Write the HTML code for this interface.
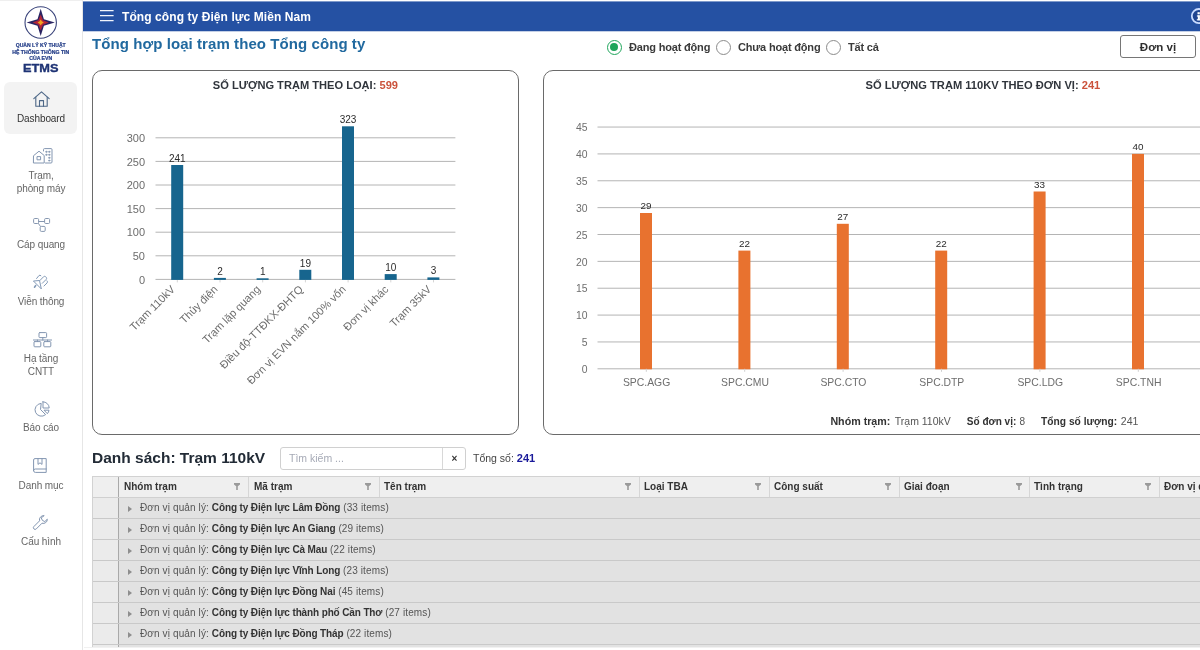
<!DOCTYPE html>
<html lang="vi">
<head>
<meta charset="utf-8">
<title>ETMS</title>
<style>
*{box-sizing:border-box;margin:0;padding:0}
html,body{width:1200px;height:650px;overflow:hidden;background:#fff;font-family:"Liberation Sans",sans-serif;color:#333}
.abs{position:absolute}
#side{position:absolute;left:0;top:0;width:83px;height:650px;background:#fff;border-right:1px solid #e6e6e6}
#hdr{position:absolute;left:83px;top:1px;width:1117px;height:30px;background:#2551a3;border-top:1px solid #7f9acb;box-shadow:0 1px 0 #c3cfe6}
#hdr .t{position:absolute;left:39px;top:8.3px;letter-spacing:0.08px;font-size:12px;font-weight:bold;color:#fff;white-space:nowrap;line-height:14px}
.nav{position:absolute;left:0;width:82px;text-align:center;letter-spacing:-0.1px;font-size:10px;line-height:13px;color:#666;white-space:nowrap}
.nav.act{color:#333}
.ico{position:absolute}
.ico svg{display:block;overflow:visible}
#ptitle{position:absolute;left:92px;top:35px;letter-spacing:0.075px;font-size:15px;font-weight:bold;color:#21699f;white-space:nowrap;line-height:18px}
.panel{position:absolute;border:1px solid #6a6a6a;border-radius:10px;background:#fff}
.rad{position:absolute;width:15px;height:15px;border-radius:50%;border:1.8px solid #8a8a8a;background:#fff}
.rad.on{border-color:#1fa55b}
.rad.on:after{content:"";position:absolute;left:2px;top:2px;width:7.9px;height:7.9px;border-radius:50%;background:#1fa55b}
.rlab{position:absolute;top:41px;letter-spacing:-0.18px;font-size:11px;font-weight:bold;color:#3a3a3a;white-space:nowrap;line-height:13px}
#btn{position:absolute;left:1120px;top:35px;width:76px;height:23px;border:1px solid #767676;border-radius:3px;background:#fff;text-align:center;font-size:11.5px;font-weight:bold;line-height:22px;color:#2e2e2e}

#ltitle{position:absolute;left:92px;top:449px;font-size:15.5px;font-weight:bold;color:#222b36;white-space:nowrap;line-height:18px}
#srch{position:absolute;left:280px;top:447px;width:186px;height:23px;border:1px solid #d0d0d0;border-radius:3px;background:#fff}
#srch .ph{position:absolute;left:8px;top:4px;font-size:10.5px;color:#a6aab6;line-height:13px;white-space:nowrap}
#srch .x{position:absolute;left:161px;top:0;width:24px;font-weight:normal;height:21px;border-left:1px solid #d8d8d8;text-align:center;font-size:10px;line-height:21px;color:#333;font-weight:bold}
#tot{position:absolute;left:473px;top:452px;font-size:10.5px;color:#444;white-space:nowrap;line-height:13px}
#tot b{color:#1a1a9a;font-size:11px}
#grid{position:absolute;left:92px;top:476px;width:1120px;height:180px;border-left:1px solid #d2d2d2;border-top:1px solid #d2d2d2;background:#e2e2e2}
#gh{position:absolute;left:0;top:0;width:1120px;height:21px;background:#efefef;border-bottom:1px solid #d0d0d0}
.th{position:absolute;top:0;height:20px;border-left:1px solid #d6d6d6;font-size:10px;font-weight:bold;color:#333;line-height:20px;padding-left:5px;white-space:nowrap}
.th svg{position:absolute;right:8px;top:6px}
.gr{position:absolute;left:0;width:1120px;height:21px;border-bottom:1px solid #c9c9c9;font-size:10px;line-height:20px;color:#555;white-space:nowrap}
.gr .ind{position:absolute;left:0;top:0;width:26px;height:100%;background:#ebebeb;border-right:1px solid #a9a9a9}
.gr .ar{position:absolute;left:35px;top:8px;width:0;height:0;border-left:4.5px solid #8e8e8e;border-top:3px solid transparent;border-bottom:3px solid transparent}
.gr .tx{position:absolute;left:47px;top:0;letter-spacing:0.12px}
.gr b{color:#333;letter-spacing:-0.13px}
svg text{font-family:"Liberation Sans",sans-serif}
</style>
</head>
<body><div id="wrap" style="position:absolute;left:0;top:0;width:1200px;height:650px;will-change:transform">
<!-- SIDEBAR -->
<div class="abs" style="left:0;top:0;width:82px;height:1px;background:#efefef;z-index:5"></div>
<div id="side">
  <!-- logo -->
  <svg class="abs" style="left:0;top:0" width="82" height="80" viewBox="0 0 82 80">
    <circle cx="40.7" cy="22.5" r="15.7" fill="#fff" stroke="#39437a" stroke-width="1.1"/>
    <path d="M40.7 8.8 L43.9 19.3 L54.8 22.5 L43.9 25.7 L40.7 36 L37.5 25.7 L26.6 22.5 L37.5 19.3Z" fill="#2a2462"/>
    <path d="M40.7 14.5 L43 20.2 L48.7 22.5 L43 24.8 L40.7 30.5 L38.4 24.8 L32.7 22.5 L38.4 20.2Z" fill="#b3263a"/>
    <path d="M40.7 19.4 L41.9 21.3 L43.8 22.5 L41.9 23.7 L40.7 25.6 L39.5 23.7 L37.6 22.5 L39.5 21.3Z" fill="#f3a21f"/>
    <g font-weight="bold" fill="#27408a" stroke="#27408a" stroke-width="0.22" text-anchor="middle">
      <text x="40.7" y="46.7" font-size="5.3" textLength="50" lengthAdjust="spacingAndGlyphs">QUẢN LÝ KỸ THUẬT</text>
      <text x="40.7" y="53.5" font-size="5.3" textLength="57" lengthAdjust="spacingAndGlyphs">HỆ THỐNG THÔNG TIN</text>
      <text x="40.7" y="59.7" font-size="5.3" textLength="23" lengthAdjust="spacingAndGlyphs">CỦA EVN</text>
      <text x="40.7" y="72" font-size="11.5" textLength="35.5" lengthAdjust="spacingAndGlyphs" fill="#1f3475" stroke="#1f3475" stroke-width="0.35">ETMS</text>
    </g>
  </svg>
  <div class="abs" style="left:4px;top:82px;width:73px;height:52px;border-radius:6px;background:#f3f3f3"></div>
  <!-- icons -->
  <div class="ico" id="i1" style="left:33px;top:91px"><svg width="17" height="16" viewBox="0 0 17 16" fill="none" stroke="#4d6787" stroke-width="1.1" stroke-linejoin="round" stroke-linecap="round"><path d="M0.8 7.6 L8.5 0.8 L16.2 7.6"/><path d="M2.8 6.2 V15.2 H14.2 V6.2"/><path d="M6.5 15.2 V9.6 H10.5 V15.2"/></svg></div>
  <div class="nav act" style="top:112px">Dashboard</div>
  <div class="ico" id="i2" style="left:33px;top:148px"><svg width="20" height="16" viewBox="0 0 20 16" fill="none" stroke="#8396b1" stroke-width="1" stroke-linejoin="round" stroke-linecap="round"><path d="M10.5 3 V1.6 Q10.5 0.6 11.5 0.6 H18 Q19 0.6 19 1.6 V14 Q19 15 18 15 H12.5"/><path d="M0.8 7.5 L6 3.2 L11.2 7.5 V15 H0.8Z"/><rect x="4.4" y="8.6" width="3.2" height="3.2"/><circle cx="13.3" cy="3.8" r="0.6"/><circle cx="16.2" cy="3.8" r="0.6"/><circle cx="13.3" cy="6.8" r="0.6"/><circle cx="16.2" cy="6.8" r="0.6"/><circle cx="16.2" cy="9.8" r="0.6"/><circle cx="16.2" cy="12.6" r="0.6"/></svg></div>
  <div class="nav" style="top:169px">Trạm,<br>phòng máy</div>
  <div class="ico" id="i3" style="left:33px;top:217px"><svg width="18" height="16" viewBox="0 0 18 16" fill="none" stroke="#8697b0" stroke-width="1" stroke-linejoin="round"><rect x="0.6" y="1.5" width="5" height="5" rx="1.1"/><rect x="11.6" y="1.5" width="5" height="5" rx="1.1"/><rect x="7.2" y="9.4" width="5" height="5" rx="1.1"/><path d="M5.6 4.5 H11.6 M5.2 6.2 L7.6 9.6"/></svg></div>
  <div class="nav" style="top:238px">Cáp quang</div>
  <div class="ico" id="i4" style="left:33px;top:274px"><svg width="16" height="16" viewBox="0 0 16 16" fill="none" stroke="#8299b6" stroke-width="1" stroke-linejoin="round" stroke-linecap="round"><path d="M0.7 7.3 L8.3 14.9 L6.6 6.9 Z"/><path d="M2.7 11.6 L1.5 13.2" stroke-width="1.6"/><path d="M3.6 4.5 L6 1.5 Q6.9 0.7 7.9 1.7"/><path d="M6.9 6.5 L10.6 2.7 Q11.6 1.9 12.6 2.7 L13.3 3.4 Q14 4.4 13.2 5.4 L9.3 9.3"/><path d="M11 12 L14.2 8.8 Q15 7.8 14 6.8"/></svg></div>
  <div class="nav" style="top:295px">Viễn thông</div>
  <div class="ico" id="i5" style="left:33px;top:332px"><svg width="19" height="16" viewBox="0 0 19 16" fill="none" stroke="#8396b1" stroke-width="1" stroke-linejoin="round" stroke-linecap="round"><rect x="6" y="0.6" width="7.6" height="5" rx="0.8"/><path d="M0.4 8 H18.6 M9.8 5.6 V8 M4.4 8 V9.6 M14.6 8 V9.6"/><rect x="1" y="9.6" width="6.8" height="5.2" rx="0.8"/><rect x="10.8" y="9.6" width="7" height="5.2" rx="0.8"/></svg></div>
  <div class="nav" style="top:352px">Hạ tầng<br>CNTT</div>
  <div class="ico" id="i6" style="left:34px;top:401px"><svg width="16" height="16" viewBox="0 0 16 16" fill="none" stroke="#8396b1" stroke-width="1" stroke-linejoin="round" stroke-linecap="round"><path d="M6.8 2.4 A6.4 6.4 0 1 0 11.6 13.6 L6.8 8.8Z"/><path d="M9 0.8 V7 H15.2 A6.2 6.2 0 0 0 9 0.8Z"/><path d="M10.4 9.2 H15 A6 6 0 0 1 13.6 12.4Z"/></svg></div>
  <div class="nav" style="top:421px">Báo cáo</div>
  <div class="ico" id="i7" style="left:33px;top:458px"><svg width="14" height="15" viewBox="0 0 14 15" fill="none" stroke="#8396b1" stroke-width="1" stroke-linejoin="round" stroke-linecap="round"><path d="M0.6 12.6 V2 Q0.6 0.6 2 0.6 H13.2 V14.4 H2.4 Q0.6 14.4 0.6 12.6 Q0.6 11 2.4 11 H13.2"/><path d="M5 0.6 V6.4 L7 4.8 L9 6.4 V0.6"/></svg></div>
  <div class="nav" style="top:479px">Danh mục</div>
  <div class="ico" id="i8" style="left:33px;top:515px"><svg width="15" height="15" viewBox="0 0 15 15" fill="none" stroke="#8396b1" stroke-width="1" stroke-linejoin="round" stroke-linecap="round"><path d="M10.8 0.6 A4 4 0 0 0 6.6 5.8 L0.9 11.5 A1.6 1.6 0 0 0 3.3 13.9 L9 8.2 A4 4 0 0 0 14.3 4.2 L11.8 6.6 L9.4 5.4 L8.4 3.2Z"/></svg></div>
  <div class="nav" style="top:535px">Cấu hình</div>
</div>
<!-- HEADER -->
<div id="hdr">
  <svg class="abs" style="left:16px;top:7px" width="16" height="16" viewBox="0 0 16 16"><path d="M1 1.7h13.6M1 6.7h13.6M1 11.7h13.6" stroke="#f2f5fc" stroke-width="1.2" fill="none"/></svg>
  <svg class="abs" style="left:1105px;top:4px" width="14" height="20" viewBox="0 0 14 20"><circle cx="10.9" cy="10.1" r="7.1" fill="#1f4491" stroke="#c9dbff" stroke-width="1.8"/><rect x="9.5" y="6.2" width="2.3" height="2.1" fill="#fff"/><rect x="8.9" y="9.4" width="2.9" height="1.2" fill="#fff"/><rect x="9.8" y="9.4" width="2.1" height="4.8" fill="#fff"/><rect x="8.8" y="13.2" width="4.4" height="1.2" fill="#fff"/></svg>
  <div class="t">Tổng công ty Điện lực Miền Nam</div>
</div>
<div id="ptitle">Tổng hợp loại trạm theo Tổng công ty</div>
<!-- RADIOS -->
<div class="rad on" style="left:607px;top:40px"></div><div class="rlab" style="left:629px">Đang hoạt động</div>
<div class="rad" style="left:716px;top:40px"></div><div class="rlab" style="left:738px">Chưa hoạt động</div>
<div class="rad" style="left:826px;top:40px"></div><div class="rlab" style="left:848px">Tất cả</div>
<div id="btn">Đơn vị</div>
<!-- PANELS -->
<div class="panel" id="p1" style="left:92px;top:70px;width:427px;height:365px"></div>
<div class="panel" id="p2" style="left:543px;top:70px;width:700px;height:365px"></div>
<div id="ltitle">Danh sách: Trạm 110kV</div>
<div id="srch"><div class="ph">Tìm kiếm ...</div><div class="x">×</div></div>
<div id="tot">Tổng số: <b>241</b></div>
<div id="grid"><div id="gh">
<div class="th" style="border-left-color:#a9a9a9;left:25px;width:130px;padding-left:5px">Nhóm trạm<svg width="6" height="7" viewBox="0 0 6 7"><path d="M0 0H6V1.4L3.8 3.2V7H2.2V3.2L0 1.4Z" fill="#9a9a9a"/></svg></div>
<div class="th" style="left:155px;width:131px;padding-left:5px">Mã trạm<svg width="6" height="7" viewBox="0 0 6 7"><path d="M0 0H6V1.4L3.8 3.2V7H2.2V3.2L0 1.4Z" fill="#9a9a9a"/></svg></div>
<div class="th" style="left:286px;width:260px;padding-left:4px">Tên trạm<svg width="6" height="7" viewBox="0 0 6 7"><path d="M0 0H6V1.4L3.8 3.2V7H2.2V3.2L0 1.4Z" fill="#9a9a9a"/></svg></div>
<div class="th" style="left:546px;width:130px;padding-left:4px">Loại TBA<svg width="6" height="7" viewBox="0 0 6 7"><path d="M0 0H6V1.4L3.8 3.2V7H2.2V3.2L0 1.4Z" fill="#9a9a9a"/></svg></div>
<div class="th" style="left:676px;width:130px;padding-left:4px">Công suất<svg width="6" height="7" viewBox="0 0 6 7"><path d="M0 0H6V1.4L3.8 3.2V7H2.2V3.2L0 1.4Z" fill="#9a9a9a"/></svg></div>
<div class="th" style="left:806px;width:131px;padding-left:4px">Giai đoạn<svg width="6" height="7" viewBox="0 0 6 7"><path d="M0 0H6V1.4L3.8 3.2V7H2.2V3.2L0 1.4Z" fill="#9a9a9a"/></svg></div>
<div class="th" style="left:936px;width:130px;padding-left:4px">Tình trạng<svg width="6" height="7" viewBox="0 0 6 7"><path d="M0 0H6V1.4L3.8 3.2V7H2.2V3.2L0 1.4Z" fill="#9a9a9a"/></svg></div>
<div class="th" style="left:1066px;width:130px;padding-left:4px">Đơn vị quản lý<svg width="6" height="7" viewBox="0 0 6 7"><path d="M0 0H6V1.4L3.8 3.2V7H2.2V3.2L0 1.4Z" fill="#9a9a9a"/></svg></div>
</div>
<div class="gr" style="top:21px"><div class="ind"></div><div class="ar"></div><div class="tx">Đơn vị quản lý: <b>Công ty Điện lực Lâm Đồng</b> (33 items)</div></div>
<div class="gr" style="top:42px"><div class="ind"></div><div class="ar"></div><div class="tx">Đơn vị quản lý: <b>Công ty Điện lực An Giang</b> (29 items)</div></div>
<div class="gr" style="top:63px"><div class="ind"></div><div class="ar"></div><div class="tx">Đơn vị quản lý: <b>Công ty Điện lực Cà Mau</b> (22 items)</div></div>
<div class="gr" style="top:84px"><div class="ind"></div><div class="ar"></div><div class="tx">Đơn vị quản lý: <b>Công ty Điện lực Vĩnh Long</b> (23 items)</div></div>
<div class="gr" style="top:105px"><div class="ind"></div><div class="ar"></div><div class="tx">Đơn vị quản lý: <b>Công ty Điện lực Đồng Nai</b> (45 items)</div></div>
<div class="gr" style="top:126px"><div class="ind"></div><div class="ar"></div><div class="tx">Đơn vị quản lý: <b>Công ty Điện lực thành phố Cần Thơ</b> (27 items)</div></div>
<div class="gr" style="top:147px"><div class="ind"></div><div class="ar"></div><div class="tx">Đơn vị quản lý: <b>Công ty Điện lực Đồng Tháp</b> (22 items)</div></div>
<div class="gr" style="top:168px"><div class="ind"></div><div class="ar"></div><div class="tx">Đơn vị quản lý: <b>Công ty Điện lực Tây Ninh</b> (40 items)</div></div>
</div>
<div class="abs" style="left:84px;top:647px;width:1116px;height:3px;background:#fff;border-top:1px solid #f1f1f1"></div>
<!--CHARTS-->
<svg class="abs" id="c1" style="left:0;top:0" width="1200" height="650" viewBox="0 0 1200 650">
<text x="212.8" y="88.8" textLength="185.2" lengthAdjust="spacingAndGlyphs" font-size="11" font-weight="bold" fill="#30353c"><tspan>SỐ LƯỢNG TRẠM THEO LOẠI: </tspan><tspan fill="#cb523b">599</tspan></text>
<g stroke="#b4b4b4" stroke-width="1">
<path d="M155.5 279.40H455.4"/>
<path d="M155.5 255.80H455.4"/>
<path d="M155.5 232.20H455.4"/>
<path d="M155.5 208.60H455.4"/>
<path d="M155.5 185.00H455.4"/>
<path d="M155.5 161.40H455.4"/>
<path d="M155.5 137.80H455.4"/>
<path d="M177.3 279.4V282.4" stroke="#d5d5d5"/>
<path d="M220.0 279.4V282.4" stroke="#d5d5d5"/>
<path d="M262.7 279.4V282.4" stroke="#d5d5d5"/>
<path d="M305.4 279.4V282.4" stroke="#d5d5d5"/>
<path d="M348.1 279.4V282.4" stroke="#d5d5d5"/>
<path d="M390.8 279.4V282.4" stroke="#d5d5d5"/>
<path d="M433.5 279.4V282.4" stroke="#d5d5d5"/>
</g>
<g font-size="11" fill="#6c6c6c" text-anchor="end">
<text x="145" y="283.6">0</text>
<text x="145" y="260.0">50</text>
<text x="145" y="236.4">100</text>
<text x="145" y="212.8">150</text>
<text x="145" y="189.2">200</text>
<text x="145" y="165.6">250</text>
<text x="145" y="142.0">300</text>
</g>
<g fill="#17658e">
<rect x="171.2" y="165.0" width="12" height="114.9"/>
<rect x="213.9" y="277.9" width="12" height="2.0"/>
<rect x="256.6" y="278.3" width="12" height="1.6"/>
<rect x="299.3" y="269.8" width="12" height="10.1"/>
<rect x="342.0" y="126.3" width="12" height="153.6"/>
<rect x="384.7" y="274.1" width="12" height="5.8"/>
<rect x="427.4" y="277.4" width="12" height="2.5"/>
</g>
<g font-size="10" fill="#2b2b2b" text-anchor="middle">
<text x="177.3" y="161.7">241</text>
<text x="220.0" y="274.6">2</text>
<text x="262.7" y="275.0">1</text>
<text x="305.4" y="266.5">19</text>
<text x="348.1" y="123.0">323</text>
<text x="390.8" y="270.8">10</text>
<text x="433.5" y="274.1">3</text>
</g>
<g font-size="11" fill="#6c6c6c" text-anchor="end">
<text transform="translate(175.7,290.0) rotate(-45)">Trạm 110kV</text>
<text transform="translate(218.4,290.0) rotate(-45)">Thủy điện</text>
<text transform="translate(261.1,290.0) rotate(-45)">Trạm lặp quang</text>
<text transform="translate(303.8,290.0) rotate(-45)">Điều độ-TTĐKX-ĐHTQ</text>
<text transform="translate(346.5,290.0) rotate(-45)">Đơn vị EVN nắm 100% vốn</text>
<text transform="translate(389.2,290.0) rotate(-45)">Đơn vị khác</text>
<text transform="translate(431.9,290.0) rotate(-45)">Trạm 35kV</text>
</g>
</svg>
<svg class="abs" id="c2" style="left:0;top:0" width="1200" height="650" viewBox="0 0 1200 650">
<text x="865.6" y="88.8" textLength="234.7" lengthAdjust="spacingAndGlyphs" font-size="11" font-weight="bold" fill="#30353c"><tspan>SỐ LƯỢNG TRẠM 110KV THEO ĐƠN VỊ: </tspan><tspan fill="#cb523b">241</tspan></text>
<g stroke="#b4b4b4" stroke-width="1">
<path d="M597.5 368.80H1200"/>
<path d="M597.5 341.94H1200"/>
<path d="M597.5 315.08H1200"/>
<path d="M597.5 288.22H1200"/>
<path d="M597.5 261.36H1200"/>
<path d="M597.5 234.50H1200"/>
<path d="M597.5 207.64H1200"/>
<path d="M597.5 180.78H1200"/>
<path d="M597.5 153.92H1200"/>
<path d="M597.5 127.06H1200"/>
</g>
<g font-size="10.4" fill="#6e6e6e" text-anchor="end">
<text x="587.6" y="372.9">0</text>
<text x="587.6" y="346.0">5</text>
<text x="587.6" y="319.2">10</text>
<text x="587.6" y="292.3">15</text>
<text x="587.6" y="265.5">20</text>
<text x="587.6" y="238.6">25</text>
<text x="587.6" y="211.7">30</text>
<text x="587.6" y="184.9">35</text>
<text x="587.6" y="158.0">40</text>
<text x="587.6" y="131.2">45</text>
</g>
<g fill="#e8722f">
<rect x="640.0" y="213.0" width="12" height="156.3"/>
<rect x="738.4" y="250.6" width="12" height="118.7"/>
<rect x="836.8" y="223.8" width="12" height="145.5"/>
<rect x="935.2" y="250.6" width="12" height="118.7"/>
<rect x="1033.6" y="191.5" width="12" height="177.8"/>
<rect x="1132.0" y="153.9" width="12" height="215.4"/>
<rect x="1230.4" y="234.5" width="12" height="134.8"/>
<rect x="1328.8" y="256.0" width="12" height="113.3"/>
</g>
<g font-size="9.9" fill="#2b2b2b" text-anchor="middle">
<text x="646.0" y="209.2">29</text>
<text x="744.4" y="246.8">22</text>
<text x="842.8" y="220.0">27</text>
<text x="941.2" y="246.8">22</text>
<text x="1039.6" y="187.7">33</text>
<text x="1138.0" y="150.1">40</text>
<text x="1236.4" y="230.7">25</text>
<text x="1334.8" y="252.2">21</text>
</g>
<g font-size="10.4" fill="#6e6e6e" text-anchor="middle">
<text x="646.6" y="386.4">SPC.AGG</text>
<path d="M646.3 368.8v3" stroke="#d0d0d0"/>
<text x="745.0" y="386.4">SPC.CMU</text>
<path d="M744.7 368.8v3" stroke="#d0d0d0"/>
<text x="843.4" y="386.4">SPC.CTO</text>
<path d="M843.1 368.8v3" stroke="#d0d0d0"/>
<text x="941.8" y="386.4">SPC.DTP</text>
<path d="M941.5 368.8v3" stroke="#d0d0d0"/>
<text x="1040.2" y="386.4">SPC.LDG</text>
<path d="M1039.9 368.8v3" stroke="#d0d0d0"/>
<text x="1138.6" y="386.4">SPC.TNH</text>
<path d="M1138.3 368.8v3" stroke="#d0d0d0"/>
<text x="1237.0" y="386.4">SPC.VLG</text>
<path d="M1236.7 368.8v3" stroke="#d0d0d0"/>
<text x="1335.4" y="386.4">SPC.DNI</text>
<path d="M1335.1 368.8v3" stroke="#d0d0d0"/>
</g>
<g font-size="10.6">
<text x="830.4" y="424.6" textLength="60" lengthAdjust="spacingAndGlyphs" font-weight="bold" fill="#333">Nhóm trạm:</text>
<text x="894.8" y="424.6" textLength="56" lengthAdjust="spacingAndGlyphs" fill="#555">Trạm 110kV</text>
<text x="966.8" y="424.6" textLength="49.5" lengthAdjust="spacingAndGlyphs" font-weight="bold" fill="#333">Số đơn vị:</text>
<text x="1019.6" y="424.6" textLength="5.6" lengthAdjust="spacingAndGlyphs" fill="#555">8</text>
<text x="1041.1" y="424.6" textLength="76" lengthAdjust="spacingAndGlyphs" font-weight="bold" fill="#333">Tổng số lượng:</text>
<text x="1120.8" y="424.6" textLength="17.6" lengthAdjust="spacingAndGlyphs" fill="#555">241</text>
</g>
</svg>
<!--/CHARTS-->
</div></body>
</html>
